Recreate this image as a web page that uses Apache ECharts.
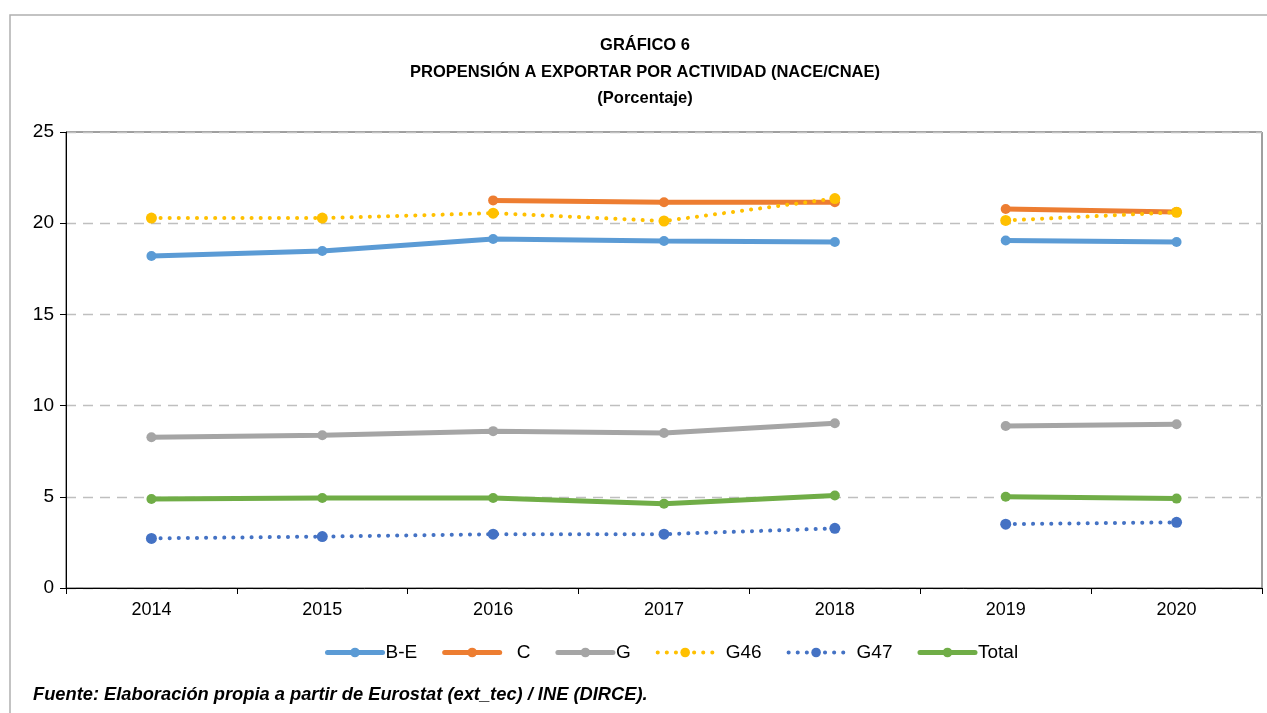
<!DOCTYPE html>
<html>
<head>
<meta charset="utf-8">
<script src="https://cdn.jsdelivr.net/npm/echarts@6/dist/echarts.min.js"></script>
<style>
html,body{margin:0;padding:0;background:#fff;}
#c{width:1267px;height:713px;}
</style>
</head>
<body>
<div id="c"></div>
<script>
const years = ['2014','2015','2016','2017','2018','2019','2020'];
const yTicks = [0,5,10,15,20,25];
const seriesNames = ['B-E','C','G','G46','G47','Total'];
const valBE    = [18.2, 18.48, 19.13, 19.02, 18.97, 19.05, 18.97];
const valC     = [null, null, 21.25, 21.15, 21.15, 20.78, 20.62];
const valG     = [8.26, 8.37, 8.6, 8.5, 9.03, 8.88, 8.98];
const valG46   = [20.28, 20.28, 20.55, 20.12, 21.35, 20.15, 20.6];
const valG47   = [2.72, 2.82, 2.95, 2.95, 3.27, 3.5, 3.6];
const valTotal = [4.88, 4.93, 4.93, 4.62, 5.07, 5.0, 4.9];

const colors = {'B-E':'#5B9BD5','C':'#ED7D31','G':'#A5A5A5','G46':'#FFC000','G47':'#4472C4','Total':'#70AD47'};
const dataMap = {'B-E':valBE,'C':valC,'G':valG,'G46':valG46,'G47':valG47,'Total':valTotal};
const dotted = {'G46':true,'G47':true};
const legendTextPad = {'B-E':-2,'C':12,'G':-2,'G46':8,'G47':8,'Total':-2};

const FONT = 'Liberation Sans, Arial, Helvetica, sans-serif';
const splitAt = 5; // break between 2018 and 2019

function lineStyleFor(name){
  return dotted[name]
    ? {color: colors[name], width: 4, type: [0.1, 9], cap: 'round'}
    : {color: colors[name], width: 5, cap: 'round'};
}

const series = [];
seriesNames.forEach(function(name){
  const vals = dataMap[name];
  const seg1 = vals.map(function(v,i){ return i < splitAt ? v : null; });
  const seg2 = vals.map(function(v,i){ return i >= splitAt ? v : null; });
  [seg1, seg2].forEach(function(seg){
    const isDot = !!dotted[name];
    series.push({
      name: name,
      type: 'line',
      data: seg,
      connectNulls: false,
      symbol: 'circle',
      symbolSize: isDot ? 11 : 10,
      itemStyle: {color: colors[name]},
      lineStyle: lineStyleFor(name),
      emphasis: {disabled: true},
      animation: false
    });
  });
});

const legendData = seriesNames.map(function(name){
  return {name: name, lineStyle: lineStyleFor(name), itemStyle: {color: colors[name]},
          textStyle: {padding: [0,0,0,legendTextPad[name]]}};
});

const chart = echarts.init(document.getElementById('c'), null, {renderer:'canvas'});
chart.setOption({
  backgroundColor: '#fff',
  title: [
    {text:'GRÁFICO 6', left:640, top:32, textAlign:'center',
     textStyle:{fontFamily:FONT, fontSize:16.5, fontWeight:'bold', color:'#000'}},
    {text:'PROPENSIÓN A EXPORTAR POR ACTIVIDAD (NACE/CNAE)', left:640, top:59, textAlign:'center',
     textStyle:{fontFamily:FONT, fontSize:16.5, fontWeight:'bold', color:'#000'}},
    {text:'(Porcentaje)', left:640, top:85, textAlign:'center',
     textStyle:{fontFamily:FONT, fontSize:16.5, fontWeight:'bold', color:'#000'}}
  ],
  graphic: [
    {type:'rect', silent:true, shape:{x:10, y:15, width:1300, height:760},
     style:{fill:'none', stroke:'#b0b0b0', lineWidth:1.5}},
    {type:'text', left:33, top:686, silent:true,
     style:{text:'Fuente: Elaboración propia a partir de Eurostat (ext_tec) / INE (DIRCE).',
            font:'italic bold 18.3px ' + FONT, fill:'#000'}}
  ],
  legend: {
    bottom: 46,
    left: 320,
    itemWidth: 55,
    itemHeight: 12,
    itemGap: 25,
    data: legendData,
    textStyle: {fontFamily:FONT, fontSize:19, color:'#000'}
  },
  grid: {left:66, right:5, top:132, bottom:125, show:true, borderColor:'#404040', borderWidth:1, backgroundColor:'transparent'},
  xAxis: {
    type:'category',
    data: years,
    boundaryGap: true,
    axisLine:{show:true, lineStyle:{color:'#000', width:1}},
    axisTick:{show:true, length:6, lineStyle:{color:'#000'}},
    axisLabel:{fontFamily:FONT, fontSize:18, color:'#000', margin:13},
    splitLine:{show:false}
  },
  yAxis: {
    type:'value',
    min: yTicks[0],
    max: yTicks[yTicks.length-1],
    interval: 5,
    axisLine:{show:true, lineStyle:{color:'#000', width:1}},
    axisTick:{show:true, length:6, lineStyle:{color:'#000'}},
    axisLabel:{fontFamily:FONT, fontSize:19, color:'#000', margin:12},
    splitLine:{show:true, lineStyle:{color:'#bfbfbf', type:[10,7], width:1.3}}
  },
  series: series
});
</script>
</body>
</html>
